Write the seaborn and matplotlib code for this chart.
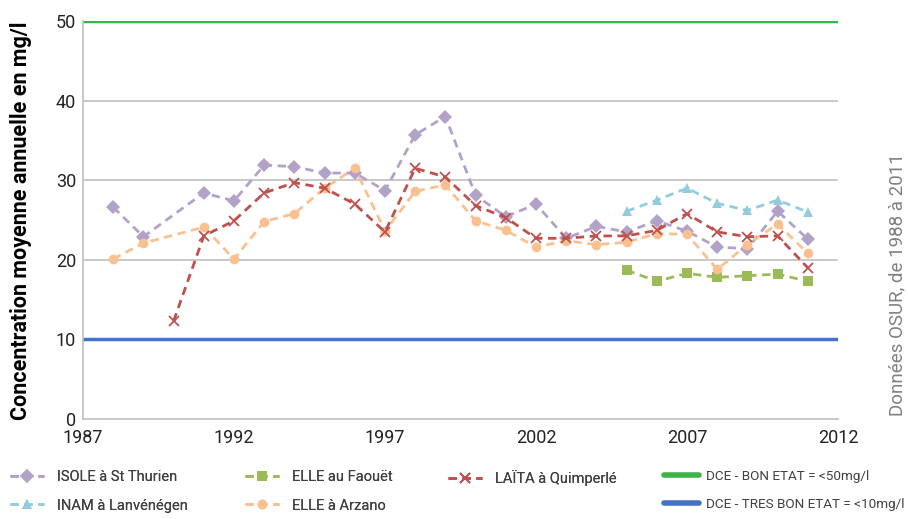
import pandas as pd
import seaborn as sns
import matplotlib.pyplot as plt
from matplotlib.lines import Line2D

# data (mg/l, annual mean)
years_isole = [1988, 1989] + list(range(1991, 2012))
isole = [26.6, 22.9, 28.4, 27.4, 31.9, 31.7, 30.9, 30.9, 28.7, 35.7, 38.0, 28.1,
         25.4, 27.0, 22.7, 24.2, 23.5, 24.9, 23.6, 21.6, 21.4, 26.1, 22.6]

years_arzano = [1988, 1989] + list(range(1991, 2012))
arzano = [20.1, 22.1, 24.1, 20.1, 24.8, 25.8, 29.0, 31.5, 23.6, 28.6, 29.4, 24.9,
          23.7, 21.6, 22.4, 21.9, 22.2, 23.3, 23.2, 18.8, 21.9, 24.5, 20.8]

years_laita = list(range(1990, 2012))
laita = [12.3, 23.0, 24.9, 28.4, 29.7, 29.0, 27.0, 23.5, 31.5, 30.4, 26.8, 25.3,
         22.7, 22.7, 23.0, 23.0, 23.7, 25.8, 23.5, 22.9, 23.0, 19.0]

years_recent = list(range(2005, 2012))
inam = [26.1, 27.5, 29.0, 27.1, 26.2, 27.5, 26.0]
faouet = [18.7, 17.3, 18.3, 17.8, 18.0, 18.2, 17.3]

seuil_bon = 50
seuil_tres_bon = 10

series = [
    ("ISOLE à St Thurien", years_isole, isole, "#B3A2C7", "D"),
    ("INAM à Lanvénégen", years_recent, inam, "#93CDDD", "^"),
    ("ELLE au Faouët", years_recent, faouet, "#9BBB59", "s"),
    ("ELLE à Arzano", years_arzano, arzano, "#FAC090", "o"),
    ("LAÏTA à Quimperlé", years_laita, laita, "#C0504D", "x"),
]

sns.set_style("white")
plt.rcParams["font.family"] = ["Roboto", "DejaVu Sans"]

fig = plt.figure(figsize=(9.08, 5.19), dpi=100)
ax = fig.add_axes([83 / 908, 1 - 419 / 519, (838 - 83) / 908, (419 - 21) / 519])

for y in [20, 30, 40]:
    ax.axhline(y, color="#BFBFBF", lw=1.2, zorder=0)
ax.axhline(seuil_bon, color="#3CB44A", lw=2.5, zorder=1)
ax.axhline(seuil_tres_bon, color="#4472C4", lw=2.5, zorder=1)

dash = (0, (3, 2))
handles = {}
for name, xs, ys, col, mk in series:
    df = pd.DataFrame({"annee": xs, "val": ys})
    mew = 1.3 if mk == "x" else 0
    sns.lineplot(data=df, x="annee", y="val", ax=ax, color=col, marker=mk,
                 markersize=7, markeredgewidth=mew, markeredgecolor=col,
                 lw=2, linestyle=dash, zorder=3)
    handles[name] = Line2D([], [], color=col, marker=mk, lw=2, ls=dash,
                           markersize=7, markeredgewidth=mew, markeredgecolor=col)

ax.set_xlim(1987, 2012)
ax.set_ylim(0, 50)
ax.set_xticks(range(1987, 2013, 5))
ax.set_yticks(range(0, 51, 10))
ax.tick_params(axis="y", labelsize=13, colors="#222222", length=0, pad=5)
ax.tick_params(axis="x", labelsize=13, colors="#222222", length=4,
               color="#BFBFBF", pad=3)
for s in ["top", "right"]:
    ax.spines[s].set_visible(False)
for s in ["left", "bottom"]:
    ax.spines[s].set_color("#BFBFBF")
    ax.spines[s].set_linewidth(1.2)
ax.set_xlabel("")
ax.set_ylabel("")
fig.text(21 / 908, 1 - 221 / 519, "Concentration moyenne annuelle en mg/l",
         rotation=90, ha="center", va="center", fontsize=15.5,
         fontweight="bold", color="black")

fig.text(897 / 908, 1 - 285 / 519, "Données OSUR, de 1988 à 2011", rotation=90,
         ha="center", va="center", fontsize=13.5, color="#808080")

# legend: four columns placed at the reference positions
columns = [
    (10, ["ISOLE à St Thurien", "INAM à Lanvénégen"]),
    (245, ["ELLE au Faouët", "ELLE à Arzano"]),
    (448, ["LAÏTA à Quimperlé"]),
]
leg_kw = dict(loc="upper left", frameon=False, borderpad=0, borderaxespad=0,
              handlelength=2.3, handletextpad=0.9, labelspacing=1.0,
              labelcolor="#404040", prop={"size": 10.5})
top = 1 - 470 / 519
for x0, names in columns:
    leg = fig.legend([handles[n] for n in names], names,
                     bbox_to_anchor=(x0 / 908, top), **leg_kw)
    fig.add_artist(leg)

dce = [Line2D([], [], color="#3CB44A", lw=4, solid_capstyle="round"),
       Line2D([], [], color="#4472C4", lw=4, solid_capstyle="round")]
dce_kw = dict(leg_kw, handlelength=2.6, handletextpad=0.55,
              labelspacing=1.08, prop={"size": 9.7})
fig.legend(dce, ["DCE - BON ETAT = <50mg/l", "DCE - TRES BON ETAT = <10mg/l"],
           bbox_to_anchor=(664 / 908, top), **dce_kw)

fig.savefig("out.png", dpi=100)
